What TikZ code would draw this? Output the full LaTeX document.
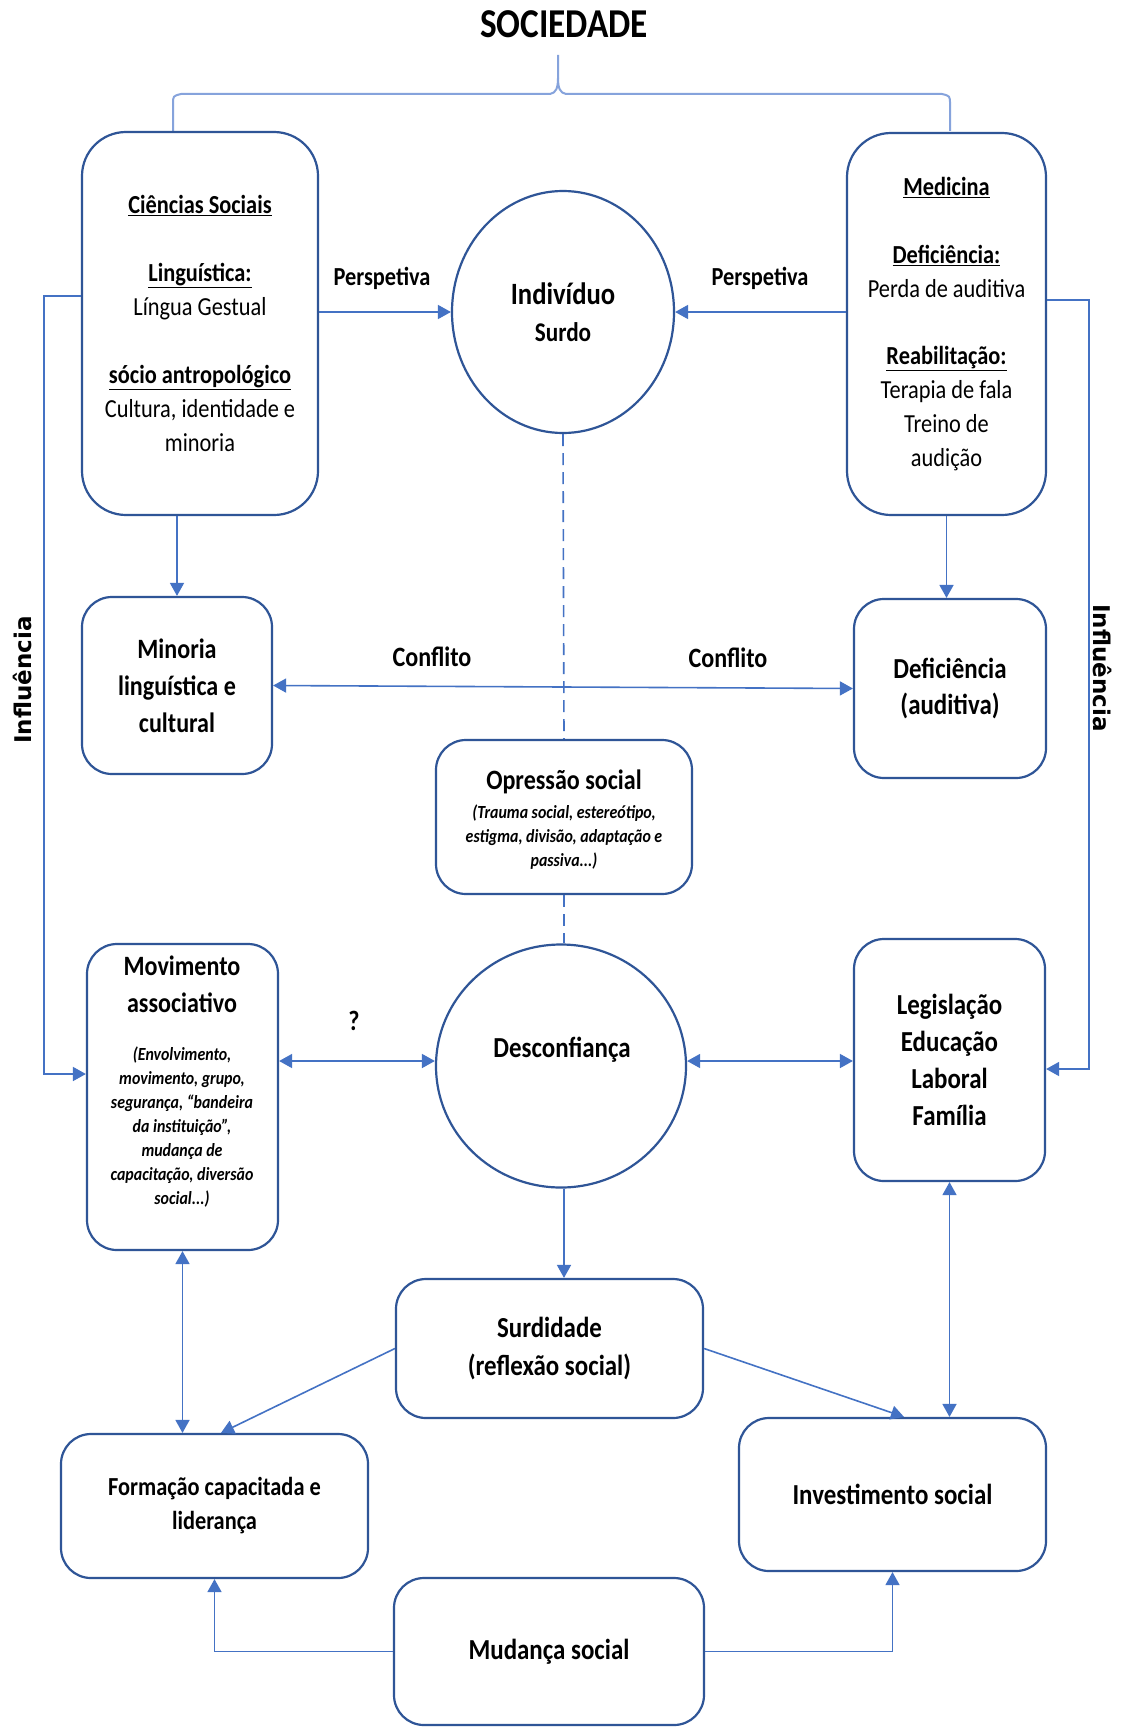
\documentclass[tikz,border=0pt]{standalone}
\usepackage{fontspec}
\setmainfont{Carlito}[FakeStretch=0.86]
\newfontfamily\inffont{DejaVu Sans}
\usetikzlibrary{arrows.meta,shapes.geometric,calc}
\definecolor{boxblue}{HTML}{2F5597}
\definecolor{lineblue}{HTML}{4472C4}
\definecolor{bracecol}{HTML}{86A3DC}
\newcommand{\fsz}[2]{\fontsize{#1pt}{#2pt}\selectfont}
\begin{document}
\begin{tikzpicture}[x=1pt,y=-1pt,
  box/.style={draw=boxblue, line width=2.2pt, rectangle, rounded corners=30pt, align=center, inner sep=0pt, fill=white},
  bigbox/.style={box, rounded corners=44pt},
  oval/.style={draw=boxblue, line width=2.2pt, ellipse, inner sep=0pt, fill=white},
  txt/.style={align=center, inner sep=0pt, text=black},
  conn/.style={draw=lineblue, line width=1.6pt},
  arr/.style={conn, -{Triangle[length=13pt,width=14pt]}},
  arrboth/.style={conn, {Triangle[length=13pt,width=14pt]}-{Triangle[length=13pt,width=14pt]}},
  dashline/.style={draw=lineblue, line width=1.6pt, dash pattern=on 12pt off 7pt},
  bracestyle/.style={draw=bracecol, line width=2pt},
]
\fill[white] (0,0) rectangle (1125,1728);
\useasboundingbox (0,0) rectangle (1125,1728);

% title and brace
\node[txt, font={\fsz{41}{46}\bfseries}] (soc) at (564,24) {SOCIEDADE};
\draw[bracestyle] (173,131) -- (173,104) .. controls (173,96) .. (181,94) -- (550,94)
  .. controls (556,93) and (558,88) .. (558,78) -- (558,55);
\draw[bracestyle] (558,78) .. controls (558,88) and (560,93) .. (566,94) -- (942,94)
  .. controls (950,96) .. (950,104) -- (950,131);

% boxes
\node[bigbox, minimum width=236pt, minimum height=383pt, font={\fsz{26}{34}}] (cs) at (200,323.5)
 {\underline{\textbf{Ciências Sociais}}\\[34pt]
  \underline{\textbf{Linguística:}}\\ Língua Gestual\\[34pt]
  \underline{\textbf{sócio antropológico}}\\ Cultura, identidade e\\ minoria};
\node[bigbox, minimum width=199pt, minimum height=382pt, font={\fsz{26}{34}}] (med) at (946.5,324)
 {\underline{\textbf{Medicina}}\\[34pt]
  \underline{\textbf{Deficiência:}}\\ Perda de auditiva\\[33pt]
  \underline{\textbf{Reabilitação:}}\\ Terapia de fala\\ Treino de\\ audição};
\node[oval, minimum width=222pt, minimum height=242pt] (ind) at (563,312) {};
\node[txt, font={\fsz{31}{36}\bfseries}] (indt1) at (563,294) {Indivíduo};
\node[txt, font={\fsz{27}{32}\bfseries}] (indt2) at (563,332) {Surdo};

\node[box, minimum width=190pt, minimum height=177pt, font={\fsz{28}{37}\bfseries}] (min) at (177,685.5)
 {Minoria\\ linguística e\\ cultural};
\node[box, minimum width=192pt, minimum height=179pt, font={\fsz{29}{36}\bfseries}] (def) at (950,688.5)
 {Deficiência\\ (auditiva)};

\node[box, minimum width=256pt, minimum height=154pt] (op) at (564,817) {};
\node[txt, font={\fsz{28}{34}\bfseries}] (opt1) at (564,782) {Opressão social};
\node[txt, font={\fsz{18.5}{24}\bfseries\itshape}] (opt2) at (564,837) {(Trauma social, estereótipo,\\ estigma, divisão, adaptação e\\ passiva...)};

\node[box, minimum width=191pt, minimum height=306pt] (mov) at (182.5,1097) {};
\node[txt, font={\fsz{28}{37}\bfseries}] (movt1) at (182,984.5) {Movimento\\ associativo};
\node[txt, font={\fsz{18.5}{24}\bfseries\itshape}] (movt2) at (182,1127) {(Envolvimento,\\ movimento, grupo,\\ segurança, “bandeira\\ da instituição”,\\ mudança de\\ capacitação, diversão\\ social...)};

\node[oval, minimum width=250pt, minimum height=243pt] (des) at (561,1066) {};
\node[txt, font={\fsz{29}{34}\bfseries}] (dest) at (562,1050) {Desconfiança};

\node[box, minimum width=191pt, minimum height=242pt, font={\fsz{29}{37}\bfseries}] (leg) at (949.5,1060)
 {Legislação\\ Educação\\ Laboral\\ Família};

\node[box, minimum width=307pt, minimum height=139pt, font={\fsz{29}{38}\bfseries}] (sur) at (549.5,1348.5)
 {Surdidade\\ (reflexão social)};
\node[box, minimum width=307pt, minimum height=144pt, font={\fsz{26}{34}\bfseries}] (form) at (214.5,1506)
 {Formação capacitada e\\ liderança};
\node[box, minimum width=307pt, minimum height=153pt, font={\fsz{29}{34}\bfseries}] (inv) at (892.5,1494.5)
 {Investimento social};
\node[box, minimum width=310pt, minimum height=147pt, font={\fsz{29}{34}\bfseries}] (mud) at (549,1651.5)
 {Mudança social};

% labels
\node[txt, font={\fsz{26}{30}\bfseries}] (persL) at (382,278) {Perspetiva};
\node[txt, font={\fsz{26}{30}\bfseries}] (persR) at (760,278) {Perspetiva};
\node[txt, font={\fsz{28}{32}\bfseries}] (confL) at (432,657) {Conflito};
\node[txt, font={\fsz{28}{32}\bfseries}] (confR) at (728,658) {Conflito};
\node[txt, font={\fsz{28}{32}\bfseries}] (quest) at (354,1021) {?};
\node[txt, rotate=90, font={\inffont\fsz{23}{28}\bfseries}] (infL) at (22,680) {Influência};
\node[txt, rotate=-90, font={\inffont\fsz{23}{28}\bfseries}] (infR) at (1103,668) {Influência};

% connectors
\draw[arr] (cs.east |- ind.west) -- (ind.west);
\draw[arr] (med.west |- ind.east) -- (ind.east);
\draw[arr] (cs.south -| min.north) -- (min.north);
\draw[arr] (med.south) -- (med.south |- def.north);
\draw[arrboth] (min.east) -- (def.west);
\draw[dashline] (ind.south) -- (op.north);
\draw[dashline] (op.south) -- (op.south |- des.north);

\coordinate (infLtop) at (44,296);
\coordinate (infLbot) at (44,1074);
\draw[arr] (cs.west |- infLtop) -- (infLtop) -- (infLbot) -- (mov.west |- infLbot);
\coordinate (infRtop) at (1089,300);
\coordinate (infRbot) at (1089,1069);
\draw[arr] (med.east |- infRtop) -- (infRtop) -- (infRbot) -- (leg.east |- infRbot);

\coordinate (qrow) at (0,1061);
\draw[arrboth] (mov.east |- qrow) -- (des.west |- qrow);
\draw[arrboth] (des.east |- qrow) -- (leg.west |- qrow);
\draw[arr] (op.south |- des.south) -- (op.south |- sur.north);
\draw[arrboth] (mov.south) -- (mov.south |- form.north);
\draw[arrboth] (leg.south) -- (leg.south |- inv.north);
\coordinate (formtop) at ($(form.north)+(6.5,0)$);
\coordinate (invtop) at ($(inv.north)+(11.5,0)$);
\draw[arr] (sur.west) -- (formtop);
\draw[arr] (sur.east) -- (invtop);
\draw[arr] (mud.west) -| (form.south);
\draw[arr] (mud.east) -| (inv.south);
\end{tikzpicture}
\end{document}
